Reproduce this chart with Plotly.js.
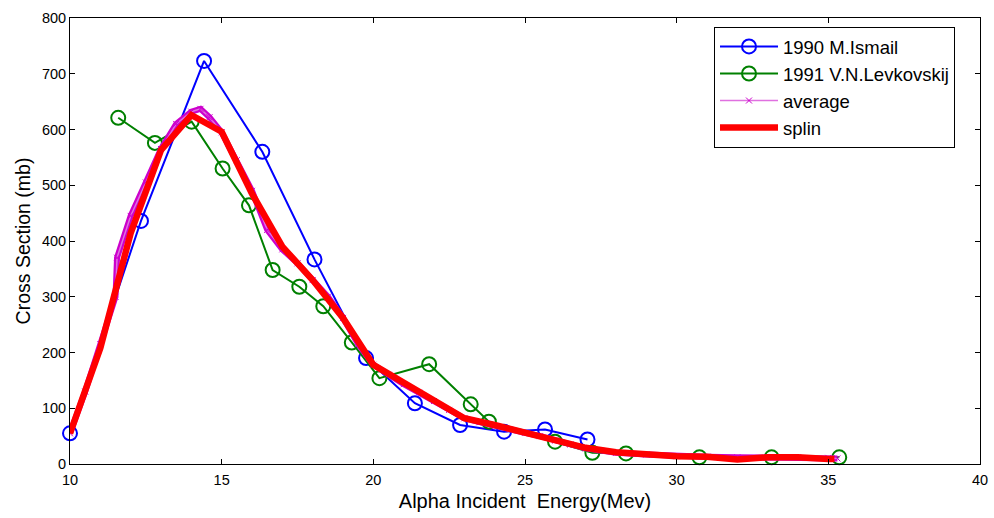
<!DOCTYPE html>
<html><head><meta charset="utf-8">
<script src="https://cdn.plot.ly/plotly-3.0.1.min.js"></script>
<style>html,body{margin:0;padding:0;background:#fff}#chart{width:994px;height:518px}</style>
</head><body><div id="chart"></div>
<script>
// 1990 M.Ismail
const ismailE = [10.0, 12.34, 14.42, 16.34, 18.06, 19.76, 21.37, 22.86, 24.31, 25.66, 27.06];
const ismailXS = [55, 436, 723, 560, 367, 190, 109, 70, 58, 62, 44];
// 1991 V.N.Levkovskij
const levE = [11.59, 12.80, 14.01, 15.03, 15.90, 16.68, 17.56, 18.35, 19.29, 20.20, 21.84, 23.21, 23.81, 25.99, 27.22, 28.33, 30.75, 33.13, 35.36];
const levXS = [621, 576, 614, 530, 464, 348, 318, 283, 218, 154, 179, 107, 76, 40, 20, 19, 12, 12, 12];
// average
const avgE = [10, 10.5, 11, 11.5, 11.55, 12, 12.5, 13, 13.5, 14, 14.3, 14.6, 15, 15.5, 16, 16.5, 17, 17.5, 18, 18.5, 19, 19.5, 20, 20.5, 21, 21.5, 22, 22.5, 23, 23.5, 24, 24.5, 25, 25.5, 26, 26.5, 27, 27.5, 28, 29, 30, 31, 32, 33, 34, 35, 35.3];
const avgXS = [55, 130, 215, 300, 370, 445, 505, 565, 610, 632, 637, 622, 595, 545, 490, 420, 385, 360, 330, 300, 262, 215, 178, 160, 143, 128, 113, 97, 82, 75, 68, 62, 56, 50, 42, 35, 28, 24, 20, 17, 14, 13, 12, 12, 12, 11, 10];
// splin
const splE = [10, 11, 12, 13, 14, 15, 16, 17, 18, 19, 20, 21, 22, 23, 24, 25, 26, 27, 28, 29, 30, 31, 32, 33, 34, 35, 35.2];
const splXS = [55, 208, 414, 563, 626, 596, 485, 390, 330, 262, 178, 145, 115, 82, 70, 56, 43, 29, 21, 17, 14, 13, 8, 12, 12, 9, 9];

const xTicks = [10, 15, 20, 25, 30, 35, 40];
const yTicks = [0, 100, 200, 300, 400, 500, 600, 700, 800];

const traces = [
  {x: ismailE, y: ismailXS, name: '1990 M.Ismail', mode: 'lines+markers', cliponaxis: false,
   line: {color: '#0000FF', width: 2},
   marker: {symbol: 'circle-open', size: 14, color: '#0000FF', line: {width: 2, color: '#0000FF'}}},
  {x: levE, y: levXS, name: '1991 V.N.Levkovskij', mode: 'lines+markers', cliponaxis: false,
   line: {color: '#008000', width: 2},
   marker: {symbol: 'circle-open', size: 14, color: '#008000', line: {width: 2, color: '#008000'}}},
  {x: avgE, y: avgXS, name: 'band', showlegend: false, mode: 'lines', hoverinfo: 'skip',
   line: {color: '#CC00CC', width: 6}},
  {x: avgE, y: avgXS, name: 'average', mode: 'lines+markers',
   line: {color: '#E070E0', width: 1.5},
   marker: {symbol: 'x-thin-open', size: 6, color: '#CC00CC', line: {width: 1, color: '#CC00CC'}}},
  {x: splE, y: splXS, name: 'splin', mode: 'lines',
   line: {color: '#FF0000', width: 6.5}}
];

const axisCommon = {
  showgrid: false, zeroline: false, showline: true, linecolor: '#000', linewidth: 1,
  mirror: 'ticks', ticks: 'inside', ticklen: 5, tickcolor: '#000', tickwidth: 1,
  tickfont: {family: 'Liberation Sans, Arial, sans-serif', size: 14.5, color: '#000'}
};

const layout = {
  width: 994, height: 518,
  margin: {l: 70, r: 14, t: 18, b: 54},
  paper_bgcolor: '#fff', plot_bgcolor: '#fff',
  xaxis: Object.assign({}, axisCommon, {
    range: [10, 40], tickvals: xTicks, ticktext: xTicks.map(String), ticklabelstandoff: 3,
    title: {text: 'Alpha Incident  Energy(Mev)', standoff: 6,
      font: {family: 'Liberation Sans, Arial, sans-serif', size: 20, color: '#000'}}
  }),
  yaxis: Object.assign({}, axisCommon, {
    range: [0, 800], tickvals: yTicks, ticktext: yTicks.map(String),
    title: {text: 'Cross Section (mb)', standoff: 6,
      font: {family: 'Liberation Sans, Arial, sans-serif', size: 19.5, color: '#000'}}
  }),
  legend: {
    x: 0.7077, y: 0.98, xanchor: 'left', yanchor: 'top',
    bgcolor: '#fff', bordercolor: '#000', borderwidth: 1,
    font: {family: 'Liberation Sans, Arial, sans-serif', size: 18.5, color: '#000'},
    itemwidth: 58,
    tracegroupgap: 0
  },
  showlegend: true
};

Plotly.newPlot('chart', traces, layout, {displayModeBar: false, staticPlot: true});
</script>
</body></html>
